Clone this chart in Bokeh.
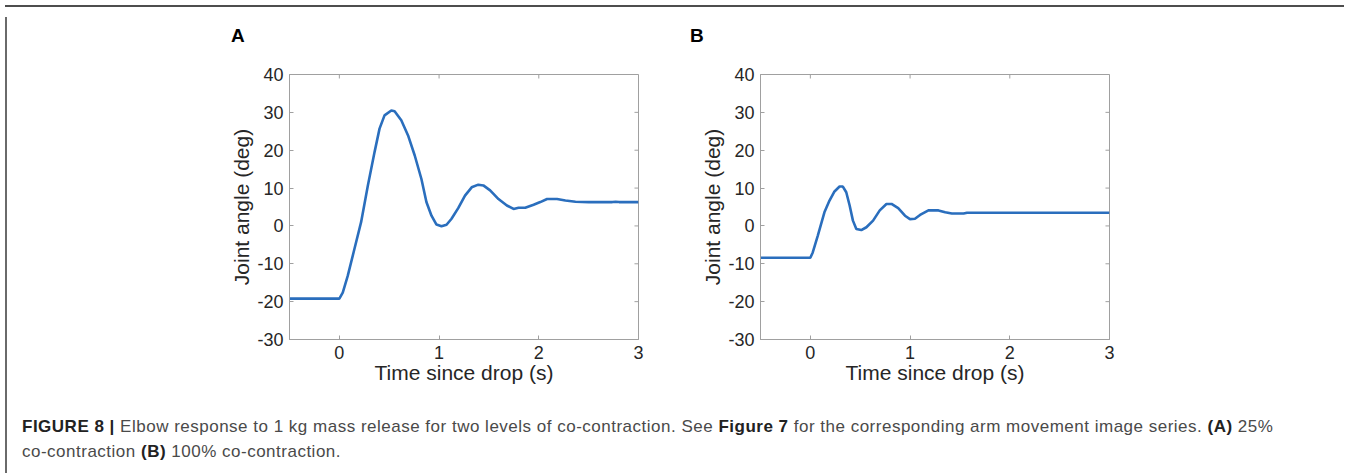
from bokeh.plotting import figure
from bokeh.models import Range1d, FixedTicker, Div
from bokeh.layouts import column, row
from bokeh.embed import file_html
from bokeh.resources import INLINE

# ---- data ----
A_t = [-0.5, 0.0, 0.034, 0.084, 0.151, 0.218, 0.286, 0.353, 0.403, 0.453, 0.521, 0.554,
       0.621, 0.689, 0.756, 0.823, 0.873, 0.924, 0.974, 1.024, 1.075, 1.125, 1.192, 1.26,
       1.327, 1.394, 1.444, 1.512, 1.596, 1.68, 1.747, 1.797, 1.864, 1.948, 2.015, 2.083,
       2.183, 2.267, 2.368, 2.502, 2.738, 2.771, 2.805, 3.0]
A_y = [-19.2, -19.2, -17.6, -13.2, -6.1, 1.0, 10.7, 19.5, 25.7, 29.2, 30.5, 30.3,
       27.9, 23.9, 18.6, 12.4, 6.3, 2.7, 0.35, -0.1, 0.3, 1.9, 4.7, 8.0,
       10.2, 10.9, 10.7, 9.4, 7.1, 5.4, 4.5, 4.8, 4.8, 5.6, 6.3, 7.1,
       7.1, 6.7, 6.4, 6.3, 6.3, 6.4, 6.3, 6.3]

B_t = [-0.5, 0.0, 0.024, 0.074, 0.141, 0.192, 0.242, 0.293, 0.326, 0.36, 0.394, 0.427,
       0.461, 0.511, 0.562, 0.629, 0.696, 0.763, 0.814, 0.881, 0.949, 0.999, 1.049, 1.1,
       1.184, 1.285, 1.352, 1.419, 1.537, 1.571, 3.0]
B_y = [-8.4, -8.4, -7.0, -2.6, 3.6, 6.7, 9.1, 10.4, 10.4, 8.9, 5.4, 1.4,
       -0.8, -1.1, -0.35, 1.4, 4.1, 5.8, 5.8, 4.7, 2.7, 1.8, 1.9, 2.9,
       4.1, 4.1, 3.6, 3.3, 3.3, 3.5, 3.5]

X_TICKS = [0, 1, 2, 3]
Y_TICKS = [-30, -20, -10, 0, 10, 20, 30, 40]
X_RANGE = (-0.5, 3)
Y_RANGE = (-30, 40)
X_LABEL = "Time since drop (s)"
Y_LABEL = "Joint angle (deg)"
PANELS = ["A", "B"]

LINE_COLOR = "#2a6ebd"
AXIS_COLOR = "#a0a0a0"
TEXT_COLOR = "#262626"
FONT = "Liberation Sans"
FRAME_W, FRAME_H = 347, 265
TICK_PX = 4


def make_panel(t, y, width, border_left, border_right):
    p = figure(width=width, height=340, output_backend="svg",
               toolbar_location=None, title=None,
               x_range=Range1d(*X_RANGE), y_range=Range1d(*Y_RANGE),
               min_border_left=border_left, min_border_right=border_right,
               min_border_top=22, min_border_bottom=53)
    p.grid.visible = False
    p.outline_line_color = AXIS_COLOR
    p.outline_line_width = 1
    p.line(t, y, line_color=LINE_COLOR, line_width=2.6)

    for ax, ticks in ((p.xaxis[0], X_TICKS), (p.yaxis[0], Y_TICKS)):
        ax.ticker = FixedTicker(ticks=ticks)
        ax.major_label_overrides = {v: str(v) for v in ticks}
        ax.axis_line_color = AXIS_COLOR
        ax.major_tick_line_color = AXIS_COLOR
        ax.major_tick_in = TICK_PX
        ax.major_tick_out = 0
        ax.minor_tick_line_color = None
        ax.major_label_text_font = FONT
        ax.major_label_text_font_size = "18px"
        ax.major_label_text_color = TEXT_COLOR
        ax.axis_label_text_font = FONT
        ax.axis_label_text_font_size = "21px"
        ax.axis_label_text_font_style = "normal"
        ax.axis_label_text_color = TEXT_COLOR
    p.xaxis[0].axis_label = X_LABEL
    p.yaxis[0].axis_label = Y_LABEL
    p.xaxis[0].major_label_standoff = 6
    p.xaxis[0].axis_label_standoff = -1
    p.yaxis[0].major_label_standoff = 6
    p.yaxis[0].axis_label_standoff = 1

    # inward ticks on the top and right edges (box on)
    dx = TICK_PX * (X_RANGE[1] - X_RANGE[0]) / FRAME_W
    dy = TICK_PX * (Y_RANGE[1] - Y_RANGE[0]) / FRAME_H
    p.segment(x0=X_TICKS, y0=[Y_RANGE[1]] * len(X_TICKS),
              x1=X_TICKS, y1=[Y_RANGE[1] - dy] * len(X_TICKS),
              line_color=AXIS_COLOR, line_width=1)
    p.segment(x0=[X_RANGE[1]] * len(Y_TICKS), y0=Y_TICKS,
              x1=[X_RANGE[1] - dx] * len(Y_TICKS), y1=Y_TICKS,
              line_color=AXIS_COLOR, line_width=1)
    return p


pA = make_panel(A_t, A_y, 680, 277, 54)
pB = make_panel(B_t, B_y, 657, 68, 240)

letter_style = ("position:absolute;top:9px;font-family:'Liberation Sans',Arial,sans-serif;"
                "font-size:19px;line-height:19px;font-weight:bold;color:#000;")
letters_html = (
    '<div style="position:relative;width:1300px;height:20px;">'
    f'<span style="{letter_style}left:214px;">{PANELS[0]}</span>'
    f'<span style="{letter_style}left:673px;">{PANELS[1]}</span>'
    '</div>'
)
letters = Div(text=letters_html, width=1337, height=30)

caption_html = (
    '<div style="font-family:\'Liberation Sans\',Arial,sans-serif;font-size:17px;'
    'letter-spacing:0.5px;line-height:25px;color:#4a4a4a;padding:17px 0 0 5px;white-space:nowrap;">'
    '<b style="color:#222">FIGURE 8 |</b> Elbow response to 1 kg mass release for two levels of '
    'co-contraction. See <b style="color:#222">Figure 7</b> for the corresponding arm movement '
    'image series. <b style="color:#222">(A)</b> 25%<br>co-contraction '
    '<b style="color:#222">(B)</b> 100% co-contraction.</div>'
)
caption = Div(text=caption_html, width=1337, height=76)

top_line = Div(text="", width=1339, height=2, styles={"background-color": "#4d4d4d"})
left_line = Div(text="", width=2, height=456, styles={"background-color": "#6a6a6a"})

layout = column(top_line, row(left_line, column(letters, row(pA, pB), caption)))

open("out.html", "w").write(file_html(layout, INLINE))
